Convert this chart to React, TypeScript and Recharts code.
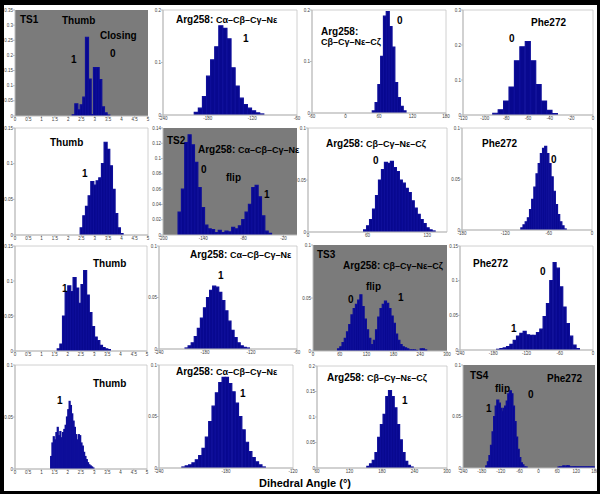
import { BarChart, Bar, XAxis, YAxis, CartesianGrid, ReferenceArea } from "recharts";

// x tick labels
const thumbTicks = [0, 0.5, 1, 1.5, 2, 2.5, 3, 3.5, 4, 4.5, 5];
const ticksA = [-240, -180, -120, -60];
const ticksB = [-60, 0, 60, 120, 180];
const ticksC = [-120, -100, -80, -60, -40, -20, 0];
const ticksD = [-200, -140, -80, -20];
const ticksE = [0, 60, 120];
const ticksF = [-180, -120, -60, 0];
const ticksG = [0, 60, 120, 180, 240, 300];
const ticksH = [-240, -180, -120, -60, 0];
const ticksI = [-240, -180, -120];
const ticksJ = [60, 120, 180, 240, 300];
const ticksK = [-240, -180, -120, -60, 0, 60, 120, 180];

// bins: [first edge, bin width]
// row 1 (TS1)
const r1ThumbBins = [2.15, 0.1];
const r1ThumbValues = [0.004, 0.04, 0.02, 0.037, 0.062, 0.26, 0.122, 0.005, 0.16, 0.16, 0.12, 0.03, 0.01, 0.003];
const r1CaBins = [-198, 5.5];
const r1CaValues = [0.005, 0.013, 0.035, 0.074, 0.105, 0.13, 0.17, 0.165, 0.145, 0.09, 0.055, 0.032, 0.02, 0.013, 0.008, 0.004, 0.002];
const r1CbBins = [48, 5];
const r1CbValues = [0.004, 0.02, 0.055, 0.11, 0.188, 0.197, 0.168, 0.128, 0.059, 0.03, 0.013, 0.004];
const r1PheBins = [-92.5, 5];
const r1PheValues = [0.005, 0.015, 0.04, 0.08, 0.155, 0.195, 0.21, 0.155, 0.087, 0.04, 0.013, 0.004];

// row 2 (TS2)
const r2ThumbBins = [2.45, 0.1];
const r2ThumbValues = [0.01, 0.027, 0.04, 0.055, 0.075, 0.07, 0.076, 0.08, 0.1, 0.13, 0.12, 0.097, 0.064, 0.03, 0.01, 0.002];
const r2CaBins = [-177.5, 5];
const r2CaValues = [0.03, 0.06, 0.121, 0.131, 0.118, 0.095, 0.062, 0.036, 0.013, 0.008, 0.007, 0.003, 0.006, 0.003, 0.005, 0.004, 0.01, 0.008, 0.012, 0.02, 0.03, 0.04, 0.062, 0.065, 0.05, 0.025, 0.005, 0.002];
const r2CbBins = [56, 3];
const r2CbValues = [0.002, 0.006, 0.012, 0.022, 0.035, 0.05, 0.06, 0.067, 0.066, 0.068, 0.062, 0.058, 0.05, 0.047, 0.042, 0.038, 0.03, 0.023, 0.017, 0.012, 0.008, 0.004, 0.002, 0.001];
const r2PheBins = [-98.5, 3];
const r2PheValues = [0.002, 0.005, 0.008, 0.012, 0.02, 0.03, 0.042, 0.055, 0.065, 0.075, 0.08, 0.082, 0.075, 0.065, 0.052, 0.038, 0.025, 0.015, 0.008, 0.004, 0.001];

// row 3 (TS3)
const r3ThumbBins = [1.6, 0.1];
const r3ThumbValues = [0.003, 0.01, 0.05, 0.085, 0.093, 0.085, 0.105, 0.09, 0.068, 0.095, 0.115, 0.08, 0.055, 0.035, 0.02, 0.015, 0.008, 0.005, 0.003, 0.002];
const r3CaBins = [-206, 4];
const r3CaValues = [0.001, 0.003, 0.006, 0.012, 0.02, 0.03, 0.04, 0.05, 0.057, 0.061, 0.06, 0.055, 0.047, 0.037, 0.027, 0.018, 0.011, 0.006, 0.003, 0.0015, 0.001];
const r3CbBins = [55, 5];
const r3CbValues = [0.002, 0.004, 0.008, 0.012, 0.018, 0.025, 0.034, 0.04, 0.044, 0.048, 0.053, 0.042, 0.03, 0.02, 0.012, 0.006, 0.01, 0.02, 0.032, 0.04, 0.044, 0.047, 0.045, 0.04, 0.033, 0.026, 0.016, 0.01, 0.006, 0.004, 0.003, 0.002, 0.001, 0.001, 0.001, 0.0005, 0, 0.002, 0.002, 0.001];
const r3PheBins = [-174, 6];
const r3PheValues = [0.001, 0.002, 0.003, 0.005, 0.008, 0.014, 0.02, 0.024, 0.027, 0.022, 0.021, 0.021, 0.025, 0.03, 0.048, 0.067, 0.1, 0.126, 0.118, 0.091, 0.062, 0.038, 0.02, 0.007, 0.002];

// row 4 (TS4)
const r4ThumbBins = [1.35, 0.05];
const r4ThumbValues = [0.012, 0.025, 0.031, 0.028, 0.035, 0.04, 0.032, 0.036, 0.03, 0.035, 0.038, 0.042, 0.05, 0.057, 0.065, 0.061, 0.053, 0.046, 0.04, 0.033, 0.028, 0.033, 0.032, 0.025, 0.022, 0.016, 0.012, 0.009, 0.006, 0.004, 0.003, 0.002, 0.001];
const r4CaBins = [-219.5, 3];
const r4CaValues = [0.001, 0.002, 0.003, 0.005, 0.008, 0.012, 0.019, 0.03, 0.045, 0.06, 0.073, 0.083, 0.088, 0.088, 0.082, 0.074, 0.063, 0.05, 0.037, 0.025, 0.016, 0.01, 0.006, 0.003, 0.001];
const r4CbBins = [152, 5];
const r4CbValues = [0.003, 0.008, 0.015, 0.03, 0.06, 0.085, 0.105, 0.14, 0.152, 0.14, 0.118, 0.085, 0.055, 0.03, 0.013, 0.005, 0.002];
const r4PheBins = [-167.5, 5];
const r4PheValues = [0.002, 0.006, 0.012, 0.022, 0.035, 0.05, 0.06, 0.066, 0.063, 0.058, 0.055, 0.058, 0.06, 0.065, 0.072, 0.075, 0.072, 0.06, 0.045, 0.03, 0.018, 0.01, 0.005, 0.003, 0.001, 0.001];
const r4PheTailBins = [62.5, 5];
const r4PheTailValues = [0.001, 0.001, 0.001, 0.002, 0.001, 0.002, 0.002, 0.001, 0.001, 0.001, 0.001, 0.001, 0.001, 0.001, 0.001, 0.001, 0.001, 0.001, 0.001, 0.001, 0.001, 0.001, 0.001];

const FONT = "'Liberation Sans', Arial, Helvetica, sans-serif";
const GRAY = "#7b7b7b";
const BLUE = "#08088f";
const YW = 16;
const MT = 4;
const MR = 7;
const XH = 10;

const toBins = (bins: number[], values: number[]) =>
  values.map((v, i) => ({ x: bins[0] + (i + 0.5) * bins[1], y: v }));

const panels = [
  { plot: [15, 10, 148, 116], xDomain: [0, 5], xTicks: thumbTicks, yTicks: [0, 0.05, 0.1, 0.15, 0.2, 0.25, 0.3, 0.35], data: toBins(r1ThumbBins, r1ThumbValues), gray: true },
  { plot: [163, 10, 297, 115], xDomain: [-240, -60], xTicks: ticksA, yTicks: [0, 0.1, 0.2], data: toBins(r1CaBins, r1CaValues) },
  { plot: [312, 10, 446, 113], xDomain: [-60, 180], xTicks: ticksB, yTicks: [0, 0.1, 0.2], data: toBins(r1CbBins, r1CbValues) },
  { plot: [463, 10, 593, 115], xDomain: [-120, 0], xTicks: ticksC, yTicks: [0, 0.1, 0.2, 0.3], data: toBins(r1PheBins, r1PheValues) },

  { plot: [15, 128, 148, 235], xDomain: [0, 5], xTicks: thumbTicks, yTicks: [0, 0.05, 0.1, 0.15], data: toBins(r2ThumbBins, r2ThumbValues) },
  { plot: [163, 128, 297, 235], xDomain: [-200, 0], xTicks: ticksD, yTicks: [0, 0.02, 0.04, 0.06, 0.08, 0.1, 0.12, 0.14], data: toBins(r2CaBins, r2CaValues), gray: true },
  { plot: [308, 128, 447, 232], xDomain: [0, 140], xTicks: ticksE, yTicks: [0, 0.05, 0.1], data: toBins(r2CbBins, r2CbValues) },
  { plot: [462, 128, 592, 230], xDomain: [-180, 0], xTicks: ticksF, yTicks: [0, 0.05, 0.1], data: toBins(r2PheBins, r2PheValues) },

  { plot: [15, 246, 147, 351], xDomain: [0, 5], xTicks: thumbTicks, yTicks: [0, 0.05, 0.1, 0.15], data: toBins(r3ThumbBins, r3ThumbValues) },
  { plot: [159, 246, 297, 349], xDomain: [-240, -60], xTicks: ticksA, yTicks: [0, 0.05, 0.1], data: toBins(r3CaBins, r3CaValues) },
  { plot: [313, 245, 447, 351], xDomain: [0, 300], xTicks: ticksG, yTicks: [0, 0.05, 0.1], data: toBins(r3CbBins, r3CbValues), gray: true },
  { plot: [460, 246, 593, 350], xDomain: [-240, 0], xTicks: ticksH, yTicks: [0, 0.05, 0.1, 0.15], data: toBins(r3PheBins, r3PheValues) },

  { plot: [15, 365, 147, 469], xDomain: [0, 5], xTicks: thumbTicks, yTicks: [0, 0.05, 0.1], data: toBins(r4ThumbBins, r4ThumbValues) },
  { plot: [159, 365, 293, 468], xDomain: [-240, -120], xTicks: ticksI, yTicks: [0, 0.05, 0.1], data: toBins(r4CaBins, r4CaValues) },
  { plot: [317, 366, 447, 468], xDomain: [60, 300], xTicks: ticksJ, yTicks: [0, 0.05, 0.1, 0.15, 0.2], data: toBins(r4CbBins, r4CbValues) },
  { plot: [463, 365, 595, 468], xDomain: [-240, 180], xTicks: ticksK, yTicks: [0, 0.05, 0.1], data: [...toBins(r4PheBins, r4PheValues), ...toBins(r4PheTailBins, r4PheTailValues)], gray: true },
];

// annotations: x, baseline y, text
const notes = [
  { x: 20, y: 23, t: "TS1" }, { x: 62, y: 24, t: "Thumb" }, { x: 100, y: 39, t: "Closing" }, { x: 110, y: 57, t: "0" }, { x: 71, y: 63, t: "1" },
  { x: 176, y: 23, t: "arg:Cα–Cβ–Cγ–Nε" }, { x: 243, y: 42, t: "1" },
  { x: 321, y: 35, t: "Arg258:" }, { x: 321, y: 45, t: "sub:Cβ–Cγ–Nε–Cζ" }, { x: 397, y: 24, t: "0" },
  { x: 531, y: 26, t: "Phe272" }, { x: 509, y: 42, t: "0" },

  { x: 50, y: 146, t: "Thumb" }, { x: 82, y: 177, t: "1" },
  { x: 167, y: 144, t: "TS2" }, { x: 198, y: 153, t: "arg:Cα–Cβ–Cγ–Nε" }, { x: 201, y: 173, t: "0" }, { x: 226, y: 181, t: "flip" }, { x: 264, y: 198, t: "1" },
  { x: 326, y: 147, t: "arg:Cβ–Cγ–Nε–Cζ" }, { x: 373, y: 164, t: "0" },
  { x: 482, y: 147, t: "Phe272" }, { x: 551, y: 163, t: "0" },

  { x: 93, y: 267, t: "Thumb" }, { x: 62, y: 292, t: "1" },
  { x: 190, y: 258, t: "arg:Cα–Cβ–Cγ–Nε" }, { x: 218, y: 279, t: "1" },
  { x: 317, y: 258, t: "TS3" }, { x: 343, y: 269, t: "arg:Cβ–Cγ–Nε–Cζ" }, { x: 366, y: 290, t: "flip" }, { x: 348, y: 303, t: "0" }, { x: 398, y: 301, t: "1" },
  { x: 473, y: 267, t: "Phe272" }, { x: 540, y: 275, t: "0" }, { x: 511, y: 332, t: "1" },

  { x: 93, y: 387, t: "Thumb" }, { x: 57, y: 404, t: "1" },
  { x: 176, y: 375, t: "arg:Cα–Cβ–Cγ–Nε" }, { x: 240, y: 397, t: "1" },
  { x: 327, y: 381, t: "arg:Cβ–Cγ–Nε–Cζ" }, { x: 402, y: 404, t: "1" },
  { x: 470, y: 379, t: "TS4" }, { x: 547, y: 382, t: "Phe272" }, { x: 495, y: 392, t: "flip" }, { x: 528, y: 398, t: "0" }, { x: 486, y: 412, t: "1" },
];

const tick = { fontSize: 4.5, fill: "#444", fontFamily: FONT };

const Hist = ({ p }: { p: any }) => {
  const [x0, y0, x1, y1] = p.plot;
  const yMax = p.yTicks[p.yTicks.length - 1];
  return (
    <div style={{ position: "absolute", left: x0 - YW, top: y0 - MT }}>
      <BarChart
        width={x1 - x0 + YW + MR}
        height={y1 - y0 + MT + XH}
        data={p.data}
        margin={{ top: MT, right: MR, left: 0, bottom: 0 }}
        barCategoryGap={0}
        barGap={0}
      >
        {p.gray && <CartesianGrid fill={GRAY} horizontal={false} vertical={false} />}
        <XAxis type="number" dataKey="x" domain={p.xDomain} ticks={p.xTicks} interval={0} allowDataOverflow
          height={XH} tick={tick} tickSize={2} tickMargin={0} stroke="#bbb" />
        <YAxis type="number" domain={[0, yMax]} ticks={p.yTicks} interval={0} allowDataOverflow
          width={YW} tick={tick} tickSize={2} tickMargin={0} stroke="#bbb" />
        {!p.gray && (
          <ReferenceArea x1={p.xDomain[0]} x2={p.xDomain[1]} y1={0} y2={yMax} fill="none" stroke="#c4c4c4" strokeWidth={0.8} />
        )}
        <Bar dataKey="y" fill={BLUE} stroke="#0e0e9a" strokeWidth={1.2} isAnimationActive={false} />
      </BarChart>
    </div>
  );
};

const Note = ({ n }: { n: any }) => {
  if (n.t.startsWith("arg:")) {
    return (
      <text x={n.x} y={n.y} fontWeight="bold" fontFamily={FONT}>
        <tspan fontSize={10}>Arg258: </tspan>
        <tspan fontSize={9}>{n.t.slice(4)}</tspan>
      </text>
    );
  }
  if (n.t.startsWith("sub:")) {
    return (
      <text x={n.x} y={n.y} fontWeight="bold" fontFamily={FONT} fontSize={9}>{n.t.slice(4)}</text>
    );
  }
  return (
    <text x={n.x} y={n.y} fontWeight="bold" fontFamily={FONT} fontSize={10}>{n.t}</text>
  );
};

export default function App() {
  return (
    <div style={{ position: "relative", width: 600, height: 494, background: "#fff", overflow: "hidden" }}>
      <style>{"body{margin:0}"}</style>
      {panels.map((p, i) => (
        <Hist key={i} p={p} />
      ))}
      <svg width={600} height={494} style={{ position: "absolute", left: 0, top: 0, pointerEvents: "none" }}>
        {notes.map((n, i) => (
          <Note key={i} n={n} />
        ))}
        <text x={259} y={487} fontWeight="bold" fontFamily={FONT} fontSize={11}>Dihedral Angle (°)</text>
      </svg>
      <div style={{
        position: "absolute", left: 0, top: 0, width: 600, height: 494, boxSizing: "border-box",
        borderStyle: "solid", borderColor: "#000", borderWidth: "5px 3px 3px 4px", pointerEvents: "none",
      }} />
    </div>
  );
}
